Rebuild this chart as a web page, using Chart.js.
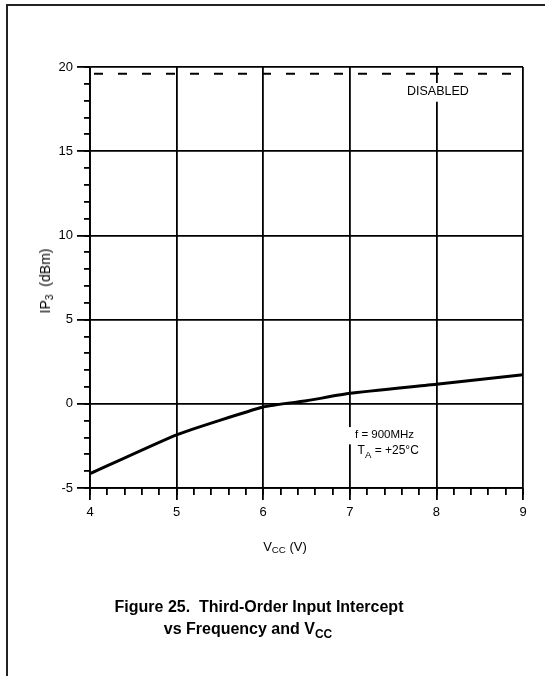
<!DOCTYPE html>
<html>
<head>
<meta charset="utf-8">
<title>IP3 vs VCC</title>
<script src="https://cdn.jsdelivr.net/npm/chart.js@4.4.1/dist/chart.umd.min.js"></script>
<style>
  html, body { margin: 0; padding: 0; background: #fff; }
  #page { position: relative; width: 545px; height: 676px; overflow: hidden;
          font-family: "Liberation Sans", Arial, sans-serif; color: #000; }
  #page canvas { position: absolute; left: 0; top: 0; }
  .rule-top { position: absolute; left: 6px; top: 4px; width: 539px; height: 2px; background: #222; }
  .rule-left { position: absolute; left: 6px; top: 4px; width: 2px; height: 672px; background: #222; }
  .ytitle { position: absolute; left: 45px; top: 281px; font-size: 14px; white-space: nowrap;
            transform: translate(-50%, -50%) rotate(-90deg); }
  .xtitle { position: absolute; left: 285px; top: 546px; font-size: 13px; white-space: nowrap;
            transform: translate(-50%, -50%); }
  .cap { position: absolute; font-weight: bold; font-size: 16px; white-space: nowrap;
         transform: translate(-50%, -50%); }
  sub { font-size: 0.75em; vertical-align: -0.3em; line-height: 0; }
</style>
</head>
<body>
<div id="page">
  <canvas id="ip3Chart" width="545" height="676"></canvas>
  <div class="rule-top"></div>
  <div class="rule-left"></div>
  <div class="ytitle">IP<sub>3</sub>&nbsp;&nbsp;(dBm)</div>
  <div class="xtitle">V<sub>CC</sub> (V)</div>
  <div class="cap" style="left:259px; top:607px;">Figure 25.&nbsp; Third-Order Input Intercept</div>
  <div class="cap" style="left:248px; top:629px;">vs Frequency and V<sub>CC</sub></div>
</div>
<script>
// 데이터
const vcc = [4, 5, 6, 6.5, 7, 8, 9];
const ip3 = [-4.15, -1.84, -0.19, 0.18, 0.62, 1.16, 1.73];
const disabledVcc = [4, 9];
const disabledIp3 = [19.6, 19.6];
const xTicks = [4, 5, 6, 7, 8, 9];
const yTicks = [-5, 0, 5, 10, 15, 20];

const INK = '#000';
Chart.defaults.font.family = '"Liberation Sans", Arial, sans-serif';
Chart.defaults.color = INK;

// 그래프 안 주석 (흰 배경으로 격자선을 가림)
const notes = [
  { parts: [{ t: 'DISABLED' }], x: 7.66, y: 18.53, size: 12.5, padL: 3 },
  { parts: [{ t: 'f = 900MHz' }], x: 7.06, y: -1.86, size: 11.5, padL: 8 },
  { parts: [{ t: 'T' }, { t: 'A', sub: true }, { t: ' = +25°C' }], x: 7.09, y: -2.8, size: 12, padL: 1 }
];

const notesPlugin = {
  id: 'notes',
  afterDraw(chart) {
    const { ctx, scales } = chart;
    ctx.save();
    ctx.textBaseline = 'middle';
    notes.forEach(n => {
      const px = scales.x.getPixelForValue(n.x);
      const py = scales.y.getPixelForValue(n.y);
      let w = 0;
      n.parts.forEach(p => {
        ctx.font = `${p.sub ? n.size * 0.8 : n.size}px "Liberation Sans", Arial, sans-serif`;
        w += ctx.measureText(p.t).width;
      });
      ctx.fillStyle = '#fff';
      ctx.fillRect(px - n.padL, py - n.size * 0.7, w + n.padL + 3, n.size * 1.5);
      ctx.fillStyle = INK;
      let cx = px;
      n.parts.forEach(p => {
        ctx.font = `${p.sub ? n.size * 0.8 : n.size}px "Liberation Sans", Arial, sans-serif`;
        ctx.fillText(p.t, cx, p.sub ? py + n.size * 0.35 : py);
        cx += ctx.measureText(p.t).width;
      });
    });
    ctx.restore();
  }
};

const gridMajor = { color: INK, lineWidth: 1.8, tickColor: INK, tickWidth: 1.8 };
const tickFont = { size: 13 };

new Chart(document.getElementById('ip3Chart'), {
  type: 'line',
  data: {
    datasets: [
      {
        label: 'IP3',
        data: vcc.map((v, i) => ({ x: v, y: ip3[i] })),
        borderColor: INK,
        borderWidth: 3,
        pointRadius: 0,
        tension: 0.15,
        xAxisID: 'x',
        yAxisID: 'y'
      },
      {
        label: 'Disabled',
        data: disabledVcc.map((v, i) => ({ x: v, y: disabledIp3[i] })),
        borderColor: INK,
        borderWidth: 2,
        borderDash: [9, 15],
        borderDashOffset: 20,
        pointRadius: 0,
        xAxisID: 'x',
        yAxisID: 'y'
      }
    ]
  },
  options: {
    responsive: false,
    maintainAspectRatio: false,
    animation: false,
    layout: { padding: { left: 0, right: 22, top: 67, bottom: 158 } },
    plugins: { legend: { display: false }, tooltip: { enabled: false } },
    scales: {
      x: {
        type: 'linear', position: 'bottom', weight: 1, min: 4, max: 9,
        afterBuildTicks: s => { s.ticks = xTicks.map(v => ({ value: v })); },
        afterFit: s => { s.height = 30; },
        grid: { ...gridMajor, tickLength: 12 },
        border: { color: INK, width: 1.8 },
        ticks: { font: tickFont, padding: 5, maxRotation: 0, autoSkip: false }
      },
      xMinor: {
        type: 'linear', position: 'bottom', weight: 0, min: 4, max: 9,
        afterFit: s => { s.height = 0; },
        grid: { ...gridMajor, drawOnChartArea: false, tickLength: 7 },
        border: { display: false },
        ticks: { display: false, stepSize: 0.2, maxTicksLimit: 100 }
      },
      y: {
        type: 'linear', position: 'left', weight: 1, min: -5, max: 20,
        afterBuildTicks: s => { s.ticks = yTicks.map(v => ({ value: v })); },
        afterFit: s => { s.width = 90; },
        grid: { ...gridMajor, tickLength: 13 },
        border: { color: INK, width: 1.8 },
        ticks: { font: tickFont, padding: 4, autoSkip: false }
      },
      yMinor: {
        type: 'linear', position: 'left', weight: 0, min: -5, max: 20,
        afterFit: s => { s.width = 0; },
        grid: { ...gridMajor, drawOnChartArea: false, tickLength: 6 },
        border: { display: false },
        ticks: { display: false, stepSize: 1, maxTicksLimit: 100 }
      }
    }
  },
  plugins: [notesPlugin]
});
</script>
</body>
</html>
